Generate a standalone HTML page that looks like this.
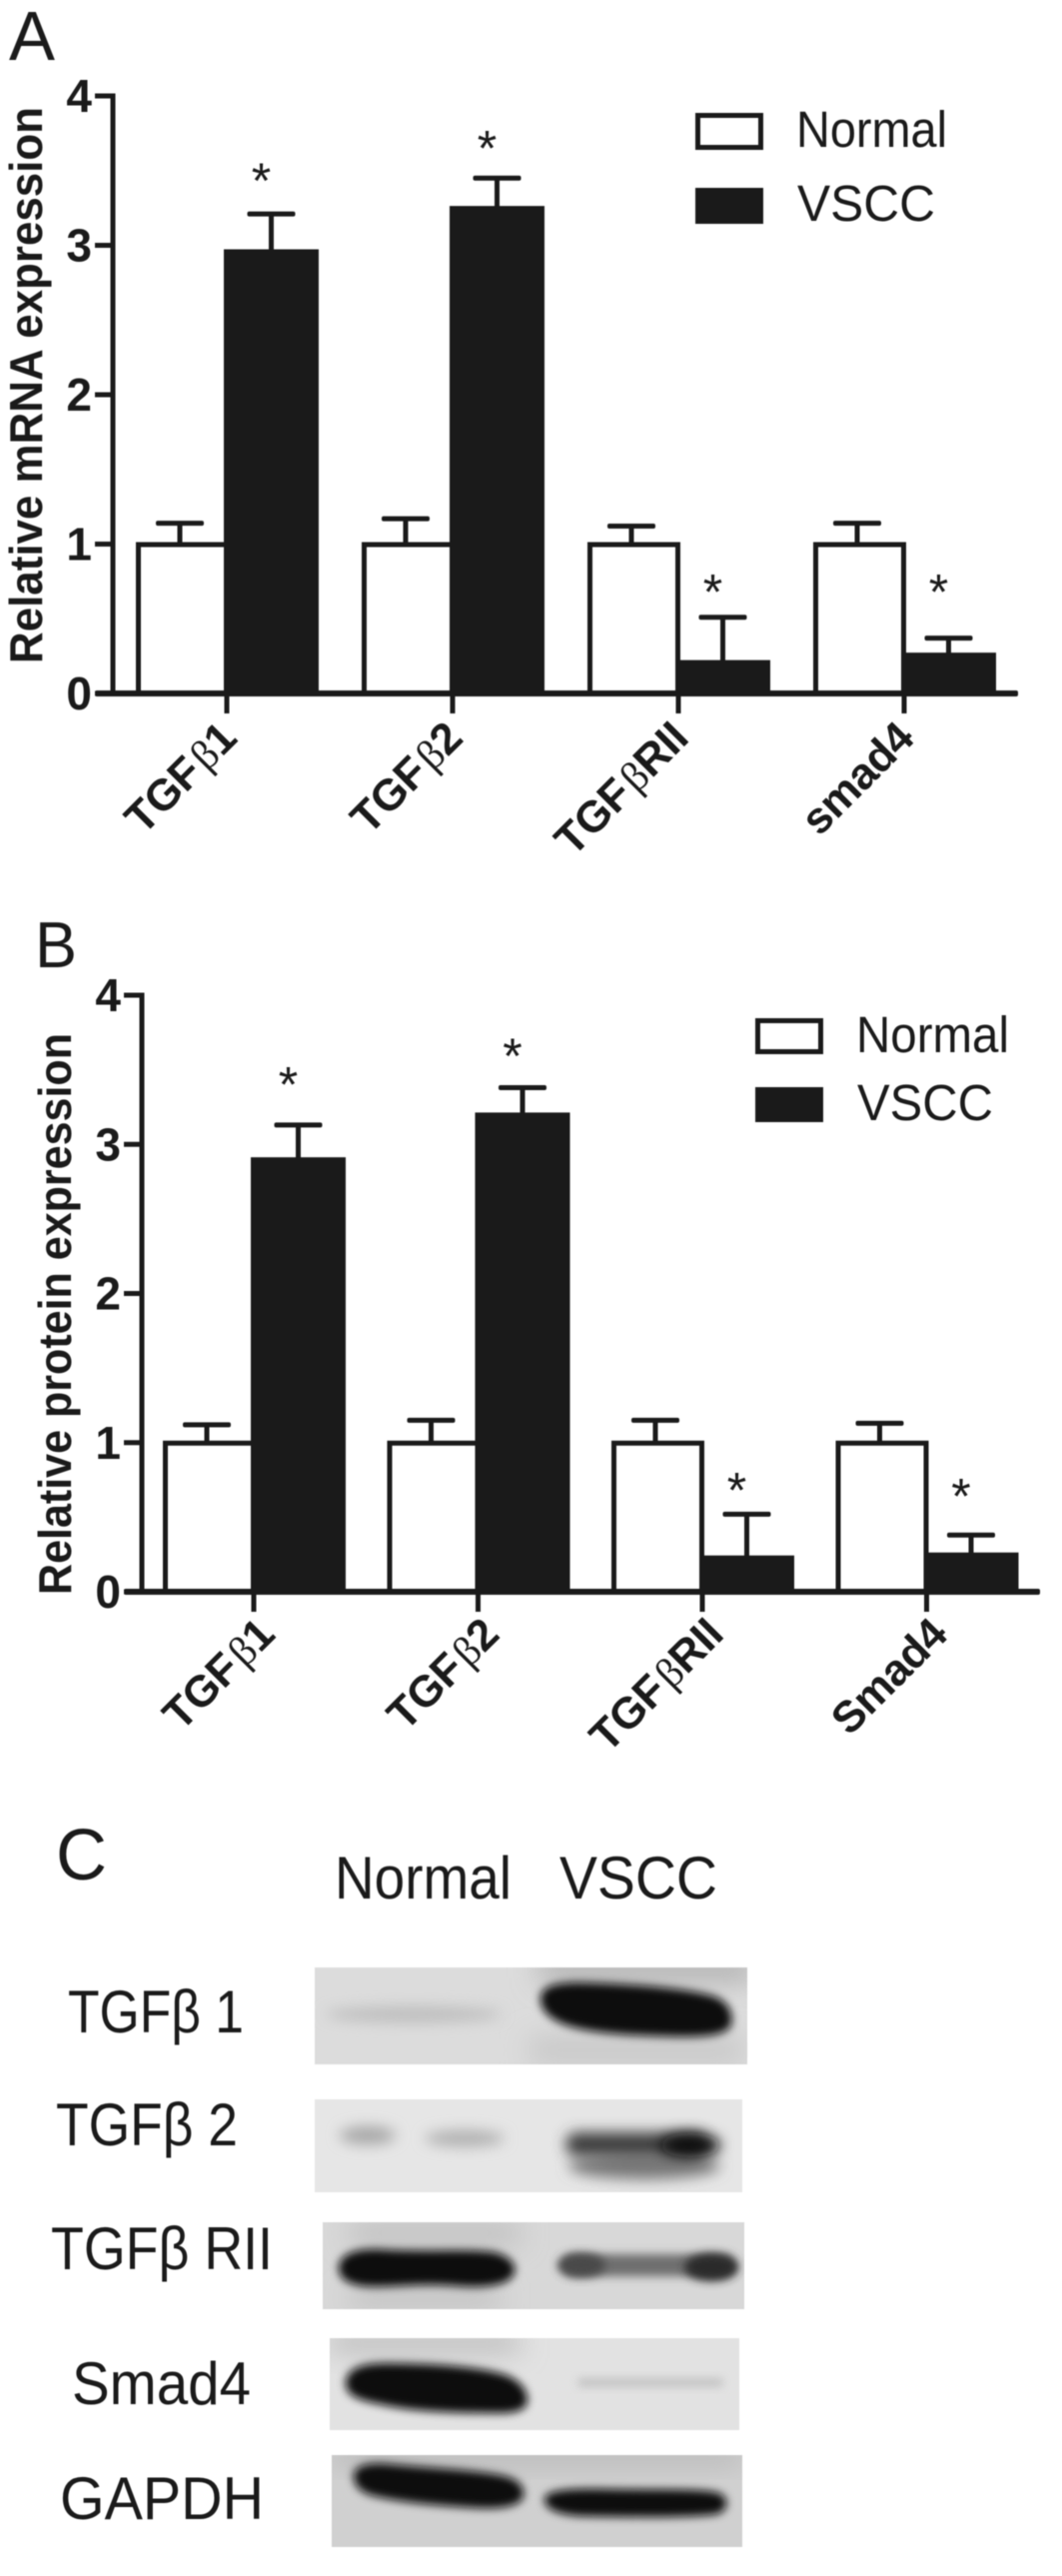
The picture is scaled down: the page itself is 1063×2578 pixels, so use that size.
<!DOCTYPE html>
<html lang="en">
<head>
<meta charset="utf-8">
<title>TGF-beta expression in Normal and VSCC tissue</title>
<style>
html,body{margin:0;padding:0;background:#fff;}
#figure{display:block;width:1063px;height:2578px;filter:blur(0.6px);font-family:"Liberation Sans",sans-serif;}
text{fill:#1a1a1a;}
</style>
</head>
<body>
<svg id="figure" xmlns="http://www.w3.org/2000/svg" width="1063" height="2578" viewBox="0 0 1063 2578">
  <defs>
    <filter id="b3" x="-30%" y="-80%" width="160%" height="260%"><feGaussianBlur stdDeviation="4.5"/></filter>
    <filter id="b6" x="-30%" y="-100%" width="160%" height="300%"><feGaussianBlur stdDeviation="7"/></filter>
    <filter id="b14" x="-40%" y="-150%" width="180%" height="400%"><feGaussianBlur stdDeviation="14"/></filter>
    <clipPath id="clip1"><rect x="315" y="1969" width="433" height="97"/></clipPath>
    <clipPath id="clip2"><rect x="315" y="2101" width="428" height="93"/></clipPath>
    <clipPath id="clip3"><rect x="323" y="2224" width="422" height="87"/></clipPath>
    <clipPath id="clip4"><rect x="330" y="2340" width="410" height="92"/></clipPath>
    <clipPath id="clip5"><rect x="332" y="2457" width="411" height="92"/></clipPath>
  </defs>

  <g id="chart-a"></g>
  <g id="chart-b"></g>

  <text x="9" y="60" font-size="70" textLength="46" lengthAdjust="spacingAndGlyphs">A</text>
  <text x="35" y="968" font-size="65" textLength="42" lengthAdjust="spacingAndGlyphs">B</text>
  <text x="56" y="1881" font-size="72" textLength="51" lengthAdjust="spacingAndGlyphs">C</text>

  <g>
    <rect x="698.5" y="115.5" width="63" height="32" fill="#fff" stroke="#1a1a1a" stroke-width="5"/>
    <rect x="696" y="188" width="68" height="36" fill="#1a1a1a"/>
    <text x="797" y="147" font-size="51" textLength="151" lengthAdjust="spacingAndGlyphs">Normal</text>
    <text x="798" y="221" font-size="51" textLength="138" lengthAdjust="spacingAndGlyphs">VSCC</text>
  </g>
  <g>
    <rect x="758.5" y="1021.5" width="63" height="31" fill="#fff" stroke="#1a1a1a" stroke-width="5"/>
    <rect x="756" y="1088" width="68" height="35" fill="#1a1a1a"/>
    <text x="857" y="1053" font-size="51" textLength="153" lengthAdjust="spacingAndGlyphs">Normal</text>
    <text x="858" y="1121" font-size="51" textLength="136" lengthAdjust="spacingAndGlyphs">VSCC</text>
  </g>

  <g>
    <text x="335" y="1900" font-size="60" textLength="177" lengthAdjust="spacingAndGlyphs">Normal</text>
    <text x="560" y="1900" font-size="60" textLength="158" lengthAdjust="spacingAndGlyphs">VSCC</text>

    <text x="68" y="2034" font-size="60" textLength="176" lengthAdjust="spacingAndGlyphs">TGFβ 1</text>
    <text x="56" y="2147" font-size="60" textLength="182" lengthAdjust="spacingAndGlyphs">TGFβ 2</text>
    <text x="51" y="2271" font-size="60" textLength="222" lengthAdjust="spacingAndGlyphs">TGFβ RII</text>
    <text x="72" y="2406" font-size="60" textLength="179" lengthAdjust="spacingAndGlyphs">Smad4</text>
    <text x="60" y="2521" font-size="60" textLength="204" lengthAdjust="spacingAndGlyphs">GAPDH</text>

    <g clip-path="url(#clip1)">
      <rect x="315" y="1969" width="433" height="97" fill="#dcdcdc"/>
      <rect x="540" y="1960" width="215" height="22" fill="#a9a9a9" filter="url(#b14)"/>
      <rect x="530" y="2040" width="215" height="24" fill="#c4c4c4" filter="url(#b14)"/>
      <ellipse cx="414" cy="2016" rx="88" ry="8" fill="#bdbdbd" filter="url(#b6)"/>
      <path d="M541 2000 C541 1988 556 1984 580 1984 C630 1985 690 1990 715 1998 C730 2004 734 2015 732 2026 C728 2038 700 2039 670 2038 C630 2037 590 2035 565 2026 C550 2020 541 2012 541 2000 Z" fill="#0e0e0e" filter="url(#b3)"/>
    </g>
    <g clip-path="url(#clip2)">
      <rect x="315" y="2101" width="428" height="93" fill="#e6e6e6"/>
      <ellipse cx="368" cy="2137" rx="28" ry="9" fill="#a6a6a6" filter="url(#b6)"/>
      <ellipse cx="465" cy="2140" rx="40" ry="8" fill="#aeaeae" filter="url(#b6)"/>
      <ellipse cx="645" cy="2168" rx="76" ry="13" fill="#787878" filter="url(#b6)"/>
      <rect x="566" y="2134" width="142" height="24" rx="12" fill="#3c3c3c" filter="url(#b6)"/>
      <ellipse cx="691" cy="2147" rx="30" ry="12" fill="#0c0c0c" filter="url(#b6)"/>
    </g>
    <g clip-path="url(#clip3)">
      <rect x="323" y="2224" width="422" height="87" fill="#d8d8d8"/>
      <rect x="350" y="2226" width="170" height="18" fill="#b8b8b8" filter="url(#b14)"/>
      <rect x="350" y="2292" width="150" height="15" fill="#b6b6b6" filter="url(#b14)"/>
      <path d="M339 2270 C339 2256 356 2250 380 2251 C420 2254 470 2250 495 2254 C510 2258 517 2266 515 2274 C512 2286 490 2290 460 2288 C420 2284 390 2290 365 2288 C348 2286 339 2280 339 2270 Z" fill="#0e0e0e" filter="url(#b3)"/>
      <rect x="562" y="2256" width="174" height="22" rx="11" fill="#6e6e6e" filter="url(#b3)"/>
      <ellipse cx="582" cy="2267" rx="24" ry="12" fill="#484848" filter="url(#b3)"/>
      <ellipse cx="712" cy="2269" rx="27" ry="14" fill="#2a2a2a" filter="url(#b3)"/>
    </g>
    <g clip-path="url(#clip4)">
      <rect x="330" y="2340" width="410" height="92" fill="#e2e2e2"/>
      <rect x="330" y="2336" width="190" height="16" fill="#aeaeae" filter="url(#b14)"/>
      <path d="M346 2385 C346 2372 360 2365 385 2365 C420 2365 470 2367 500 2375 C520 2380 528 2392 528 2402 C528 2411 518 2415 500 2415 C450 2415 410 2413 380 2406 C360 2402 346 2398 346 2385 Z" fill="#0e0e0e" filter="url(#b3)"/>
      <rect x="578" y="2380" width="146" height="9" rx="4" fill="#c2c2c2" filter="url(#b3)"/>
    </g>
    <g clip-path="url(#clip5)">
      <rect x="332" y="2457" width="411" height="92" fill="#d0d0d0"/>
      <rect x="332" y="2452" width="411" height="12" fill="#a8a8a8" filter="url(#b14)"/>
      <path d="M354 2478 C354 2467 370 2464 390 2466 C430 2470 480 2472 505 2478 C521 2482 525 2490 524 2498 C522 2507 505 2511 480 2510 C440 2508 400 2504 375 2498 C362 2495 354 2488 354 2478 Z" fill="#0e0e0e" filter="url(#b3)"/>
      <path d="M545 2500 C548 2492 570 2490 610 2491 C660 2492 710 2490 722 2496 C730 2502 729 2512 718 2516 C690 2520 630 2519 580 2518 C556 2516 544 2510 545 2500 Z" fill="#0e0e0e" filter="url(#b3)"/>
    </g>
  </g>
</svg>

<script>
var SVG_NS = "http://www.w3.org/2000/svg";

/* Panel A data: Relative mRNA expression */
var categoriesA = ["TGFβ1", "TGFβ2", "TGFβRII", "smad4"];
var normalA = [1, 1, 1, 1];
var normalErrTopA = [1.14, 1.17, 1.12, 1.14];
var vsccA = [2.96, 3.25, 0.21, 0.26];
var vsccErrTopA = [3.21, 3.45, 0.51, 0.37];
var starA = [3.47, 3.69, 0.72, 0.72];

/* Panel B data: Relative protein expression */
var categoriesB = ["TGFβ1", "TGFβ2", "TGFβRII", "Smad4"];
var normalB = [1, 1, 1, 1];
var normalErrTopB = [1.12, 1.15, 1.15, 1.13];
var vsccB = [2.9, 3.2, 0.23, 0.25];
var vsccErrTopB = [3.13, 3.38, 0.52, 0.38];
var starB = [3.44, 3.63, 0.72, 0.68];

/* Shared axis ticks */
var yTickValues = [0, 1, 2, 3, 4];
var yMax = 4;

function make(parent, tag, attrs, content) {
  var el = document.createElementNS(SVG_NS, tag);
  for (var k in attrs) { el.setAttribute(k, attrs[k]); }
  if (content !== undefined) { el.textContent = content; }
  parent.appendChild(el);
  return el;
}

function drawChart(root, cfg, categories, normal, normalTop, vscc, vsccTop, stars) {
  var ink = "#1a1a1a";
  function yScale(v) { return cfg.y0 - (cfg.y0 - cfg.yTop) * v / yMax; }
  function xCenter(i) { return cfg.firstCenter + cfg.step * i; }

  var title = make(root, "text", {
    x: cfg.titleX, y: cfg.titleBottom,
    transform: "rotate(-90 " + cfg.titleX + " " + cfg.titleBottom + ")",
    "font-size": 46, "font-weight": "bold",
    textLength: cfg.titleLength, lengthAdjust: "spacingAndGlyphs"
  }, cfg.title);
  
  

  categories.forEach(function (cat, i) {
    var c = xCenter(i);
    var nl = c - 91, nr = c - 3, vr = c + 92;
    var nc = (nl + nr) / 2, vc = (nr + vr) / 2;
    var sw = 5;

    function errorBar(center, base, top) {
      var stem = make(root, "rect", { x: center - 2.5, y: yScale(top), width: 5, height: yScale(base) - yScale(top), fill: ink });
      
      
      var cap = make(root, "rect", { x: center - 24, y: yScale(top) - 2.5, width: 48, height: 5, rx: 2, fill: ink });
      
      
    }

    errorBar(nc, normal[i], normalTop[i]);
    errorBar(vc, vscc[i], vsccTop[i]);

    var nBar = make(root, "rect", {
      x: nl + sw / 2, y: yScale(normal[i]) + sw / 2 - 2,
      width: nr - nl, height: cfg.y0 - yScale(normal[i]) - sw / 2 + 2,
      fill: "#fff", stroke: ink, "stroke-width": sw
    });
    
    

    var vBar = make(root, "rect", {
      x: nr, y: yScale(vscc[i]) - 2,
      width: vr - nr, height: cfg.y0 - yScale(vscc[i]) + 2,
      fill: ink
    });
    
    

    var star = make(root, "text", {
      x: vc - 10, y: yScale(stars[i]) + 23,
      "text-anchor": "middle", "font-size": 50
    }, "*");
    
    

    var tick = make(root, "rect", { x: c - 2.5, y: cfg.y0, width: 5, height: 20, fill: ink });
    
    

    var lx = c + cfg.labelDx, ly = cfg.y0 + cfg.labelDy;
    var label = make(root, "text", {
      x: lx, y: ly,
      transform: "rotate(-45 " + lx + " " + ly + ")",
      "text-anchor": "end", "font-size": 44, "font-weight": "bold", "letter-spacing": "-0.5"
    });
    
    
    var parts = cat.split("β");
    if (parts.length === 2) {
      make(label, "tspan", {}, parts[0]);
      make(label, "tspan", { "font-family": "\"Liberation Serif\",serif", "font-weight": "normal", "font-size": 42, dx: 4 }, "β");
      make(label, "tspan", {}, parts[1]);
    } else {
      label.textContent = cat;
    }
  });

  var yAxis = make(root, "rect", { x: cfg.axisX - 2.5, y: cfg.yTop - 2.5, width: 5, height: cfg.y0 - cfg.yTop + 5, fill: ink });
  
  

  var xAxis = make(root, "rect", { x: cfg.axisX - 18, y: cfg.y0 - 3, width: cfg.axisRight - cfg.axisX + 18, height: 6, rx: 2, fill: ink });
  
  

  yTickValues.forEach(function (v) {
    var yt = make(root, "rect", { x: cfg.axisX - 18, y: yScale(v) - 2.5, width: 18, height: 5, fill: ink });
    
    
    var lab = make(root, "text", {
      x: cfg.axisX - 21, y: yScale(v) + 16,
      "text-anchor": "end", "font-size": 46, "font-weight": "bold"
    }, String(v));
    
    
  });
}

drawChart(document.getElementById("chart-a"), {
  title: "Relative mRNA expression", titleX: 42, titleBottom: 664, titleLength: 557,
  axisX: 113, axisRight: 1019, y0: 694, yTop: 96,
  firstCenter: 227, step: 226, labelDx: 12, labelDy: 47
}, categoriesA, normalA, normalErrTopA, vsccA, vsccErrTopA, starA);

drawChart(document.getElementById("chart-b"), {
  title: "Relative protein expression", titleX: 71, titleBottom: 1596, titleLength: 562,
  axisX: 142, axisRight: 1041, y0: 1593, yTop: 996,
  firstCenter: 254, step: 224.5, labelDx: 23, labelDy: 45
}, categoriesB, normalB, normalErrTopB, vsccB, vsccErrTopB, starB);
</script>
</body>
</html>
